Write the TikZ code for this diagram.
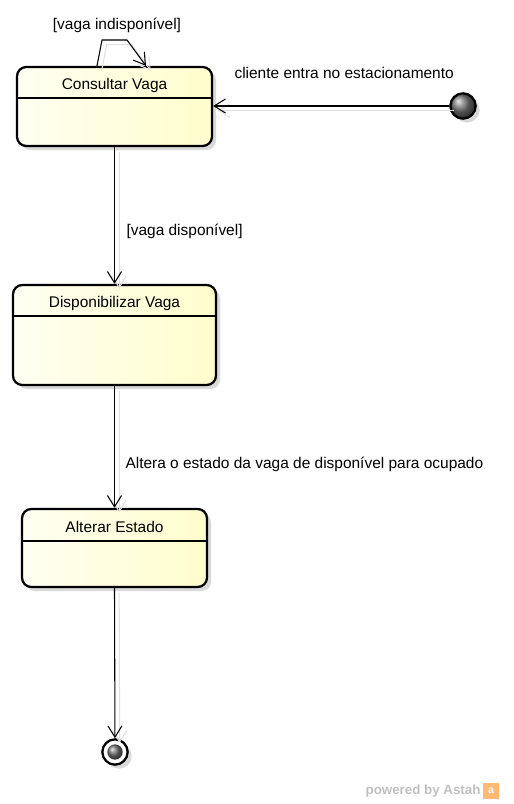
\documentclass[tikz,border=0pt]{standalone}
\usepackage{fontspec}
\setmainfont{Liberation Sans}
\usetikzlibrary{arrows.meta,shadows}
\definecolor{stateL}{RGB}{255,255,242}
\definecolor{stateR}{RGB}{255,253,204}
\begin{document}
\begin{tikzpicture}[
     x=0.75pt, y=-0.75pt,
     font=\fontsize{11.6}{13}\selectfont,
     >={Straight Barb[length=8.5pt,width=10.5pt]},
     line width=0.8pt
    ]
    \tikzstyle{state}=[draw, line width=1.7pt, rounded corners=7pt, inner sep=0pt,
      left color=stateL, right color=stateR,
      drop shadow={shadow xshift=3pt, shadow yshift=-3pt, fill=black!15, opacity=1}]
    \tikzstyle{ghost}=[draw=black!12, transform canvas={shift={(3.5pt,-3.5pt)}}]
    \tikzstyle{lbl}=[anchor=west, inner sep=0pt]

    \useasboundingbox (0,0) rectangle (514,804);

    % states
    \node[state, minimum width=146.25pt, minimum height=59.25pt] (cv) at (114.5,106.5) {};
    \node[state, minimum width=152.25pt, minimum height=75pt] (dv) at (114.5,335) {};
    \node[state, minimum width=138.75pt, minimum height=58.5pt] (ae) at (114.5,548) {};

    \node (cvt) at (114.5,85) {Consultar Vaga};
    \node (dvt) at (114.5,303) {Disponibilizar Vaga};
    \node (aet) at (114.5,527) {Alterar Estado};

    \draw (cv.west |- 0,98) -- (cv.east |- 0,98);
    \draw (dv.west |- 0,316) -- (dv.east |- 0,316);
    \draw (ae.west |- 0,541) -- (ae.east |- 0,541);

    % initial and final
    \node[circle, draw, line width=1.7pt, minimum size=19pt, inner sep=0pt, ball color=black!55,
      drop shadow={shadow xshift=3pt, shadow yshift=-3pt, fill=black!15, opacity=1}] (init) at (463,106) {};
    \node[circle, draw, fill=white, line width=1.7pt, minimum size=19pt, inner sep=0pt,
      drop shadow={shadow xshift=3pt, shadow yshift=-3pt, fill=black!15, opacity=1}] (fin) at (115,752) {};
    \node[circle, minimum size=11.5pt, inner sep=0pt, ball color=black!55] (finin) at (fin) {};

    % transitions
    \coordinate (lp1) at (102,40);
    \coordinate (lp2) at (127,40);

    \draw[ghost, ->] (init) -- (cv.east |- init);
    \draw[ghost, ->] (cv.south) -- (dv.north);
    \draw[ghost, ->] (dv.south) -- (ae.north);
    \draw[ghost, ->] (ae.south) -- (fin);
    \draw[ghost, ->] (cv.north -| 97,0) -- (lp1) -- (lp2) -- (cv.north -| 146,0);

    \draw[->] (init) -- (cv.east |- init);
    \draw[->] (cv.south) -- (dv.north);
    \draw[->] (dv.south) -- (ae.north);
    \draw[->] (ae.south) -- (fin);
    \draw[->] (cv.north -| 97,0) -- (lp1) -- (lp2) -- (cv.north -| 146,0);

    \node[lbl] (tinit) at (234,73) {cliente entra no estacionamento};
    \node (tself) at (117,25) {[vaga indispon\'ivel]};
    \node[lbl] (tdisp) at (126,231) {[vaga dispon\'ivel]};
    \node[lbl] (talt) at (125,464) {Altera o estado da vaga de dispon\'ivel para ocupado};

    % watermark
    \node[anchor=east, inner sep=0pt, text=black!25, font=\bfseries\fontsize{10}{11}\selectfont] (wm) at (481,791) {powered by Astah};
    \node[fill=orange!55, minimum size=12.5pt, inner sep=0pt, text=white,
      font=\bfseries\fontsize{8}{8}\selectfont] (logo) at (491,791) {a};
\end{tikzpicture}
\end{document}
